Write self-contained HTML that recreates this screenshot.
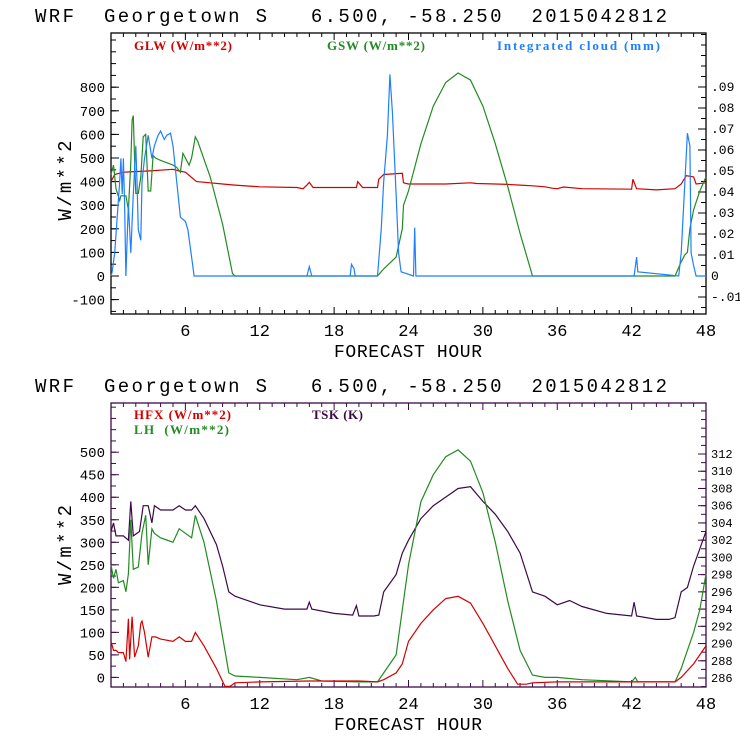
<!DOCTYPE html>
<html><head><meta charset="utf-8"><style>
html,body{margin:0;padding:0;background:#fff;width:740px;height:740px;overflow:hidden}
svg{display:block}
.mono{font-family:"Liberation Mono",monospace;white-space:pre}
.serif{font-family:"Liberation Serif",serif;font-weight:bold;white-space:pre}
</style></head><body>
<svg id="c" width="740" height="740" xmlns="http://www.w3.org/2000/svg"></svg>
<script>
// ---- data (top panel) ----
const glwHours=[0,0.3,1,3,5,5.5,6,6.9,8,9,10,12,15,15.5,15.8,16,16.3,16.6,19.8,19.9,20.3,21.5,21.6,22,23.5,23.6,24,27,29,29.5,31,32,33,34,35,35.6,36,36.5,38,42,42.1,42.4,44,45.5,46,46.4,47,47.2,48];
const glwVals=[400,430,440,445,452,445,440,400,395,390,385,378,375,370,385,397,375,375,375,400,375,375,410,430,435,395,390,390,395,392,390,388,385,382,378,372,370,377,370,368,410,370,365,370,390,425,420,390,395];
const gswHours=[0,0.2,0.4,0.7,0.8,1.2,1.4,1.6,1.7,1.8,1.9,2,2.2,2.4,2.6,2.8,3,3.2,3.4,3.6,4,4.5,5,5.3,5.6,5.8,6,6.3,6.5,6.8,7,8,9,9.8,10,21.5,22,23,23.5,23.6,24,24.5,25,26,27,28,29,30,31,32,33,34,45.5,46,46.3,46.5,46.7,47,47.5,48];
const gswVals=[430,470,370,320,340,340,280,480,660,680,490,350,350,420,590,600,360,360,510,500,490,480,470,460,440,520,500,470,500,590,570,420,220,10,0,0,30,80,200,300,360,460,560,720,820,860,830,720,560,380,180,0,0,60,90,100,200,280,360,420];
const cldHours=[0,0.1,0.3,0.5,0.7,0.8,0.9,1,1.1,1.2,1.3,1.4,1.6,1.8,2,2.1,2.2,2.4,2.5,2.7,3,3.3,3.5,3.8,4,4.3,4.5,4.8,5,5.3,5.6,6,6.2,6.5,6.7,15.8,16,16.2,19.3,19.4,19.6,19.7,21.5,21.8,22,22.3,22.5,22.7,23,23.2,23.4,24.4,24.5,24.6,42.2,42.4,42.5,45.8,46,46.3,46.5,46.7,46.8,47,47.2,48];
const cldVals=[0,0.002,0.011,0.028,0.045,0.056,0.039,0.056,0.034,0,0.017,0.034,0.011,0.039,0.062,0.045,0.022,0.017,0.045,0.056,0.067,0.056,0.062,0.067,0.069,0.065,0.067,0.068,0.062,0.045,0.028,0.026,0.022,0.009,0,0,0.0045,0,0,0.0055,0.0035,0,0,0.022,0.045,0.067,0.096,0.078,0.039,0.011,0.002,0,0.023,0,0,0.009,0.002,0,0.011,0.045,0.068,0.062,0.011,0.005,0,0];
// ---- data (bottom panel) ----
const tskHours=[0,0.2,0.4,1,1.4,1.6,1.8,2.3,2.6,3,3.3,3.5,4,5,5.5,6,6.5,6.8,7.5,8.5,9,9.5,10,12,14,15.8,16,16.2,18,19.5,19.8,20,21.2,21.6,22,23,23.5,24,25,26,27,28,29,30,31,32,33,34,35,36,37,38,40,42,42.2,42.4,44,45,45.5,46,46.5,47,47.5,48];
const tskVals=[303,304,302.5,302.5,302,306.5,302.5,303,306,306,304,306,305.5,305.5,306,305.5,305.5,306,304.5,301.5,299,296,295.5,294.5,294,294,294.8,294,293.5,293.3,294.4,293.2,293.2,293.3,296,298,300.5,302,304.5,306,307,308,308.2,306.5,305,303,300.5,296,295.5,294.5,295,294.3,293.5,293.2,294.8,293.2,292.8,292.8,293,296,296.5,299,301,303];
const lhHours=[0,0.2,0.4,0.6,1,1.2,1.4,1.6,1.8,2.2,2.5,2.8,3,3.3,3.5,4,4.5,5,5.5,6,6.5,6.8,7.5,8.5,9.5,10,12,15,16,17,20,21.5,22,23,23.5,24,25,26,27,28,29,30,31,32,33,34,35,36,38,42,42.3,42.5,45.5,46,47,47.5,48];
const lhVals=[250,220,240,210,215,190,230,350,240,245,320,360,250,330,320,310,305,300,330,320,310,360,300,170,10,3,0,-5,0,-8,-10,-10,10,50,150,250,390,450,490,505,480,410,300,170,60,5,0,0,-5,-10,0,-10,-10,20,100,150,230];
const hfxHours=[0,0.2,0.4,0.6,1,1.2,1.4,1.5,1.7,1.9,2.2,2.4,2.5,2.7,3,3.3,3.6,4,5,5.5,6,6.5,6.8,7.5,8.5,9.2,9.6,10,12,16,20,21.5,22,23,23.5,24,25,26,27,28,29,30,31,32,32.8,33.5,34,36,42,45.5,46,47,48];
const hfxVals=[80,60,60,55,55,35,130,40,135,45,70,120,125,100,45,90,90,85,80,90,80,80,100,70,20,-20,-20,-12,-10,-8,-8,-10,-5,10,30,80,120,150,175,180,165,120,70,20,-15,-15,-12,-10,-10,-10,0,30,70];
const xTicks=[6,12,18,24,30,36,42,48];
const topLeftTicks=[-100,0,100,200,300,400,500,600,700,800];
const topRightTicks=[-0.01,0,0.01,0.02,0.03,0.04,0.05,0.06,0.07,0.08,0.09];
const botLeftTicks=[0,50,100,150,200,250,300,350,400,450,500];
const botRightTicks=[286,288,290,292,294,296,298,300,302,304,306,308,310,312];

const NS="http://www.w3.org/2000/svg";
const svg=document.getElementById('c');
function mk(tag,attrs,parent){const e=document.createElementNS(NS,tag);for(const k in attrs)e.setAttribute(k,attrs[k]);(parent||svg).appendChild(e);return e;}
const X0=111,X1=706;
const xs=h=>X0+(X1-X0)*h/48;

function panel(p){
  const g=mk('g',{});
  
  
  const t=mk('text',{x:35,y:p.titleY,'font-size':19,class:'mono',fill:'#000',textLength:632,lengthAdjust:'spacing'},g);
  t.textContent='WRF  Georgetown S   6.500, -58.250  2015042812';
  
  
  const fr=mk('rect',{x:X0,y:p.top,width:X1-X0,height:p.bot-p.top,fill:'none',stroke:p.frame,'stroke-width':1.3},g);
  
  
  for(let h=1;h<48;h++){
    const len=h%6==0?7:4;
    mk('line',{x1:xs(h),x2:xs(h),y1:p.bot,y2:p.bot-len,stroke:p.frame},g);
    mk('line',{x1:xs(h),x2:xs(h),y1:p.top,y2:p.top+len,stroke:p.frame},g);
  }
  xTicks.forEach(h=>{
    const tl=mk('text',{x:xs(h),y:p.bot+22,'font-size':17,class:'mono','text-anchor':'middle'},g);
    tl.textContent=h;
    
    
  });
  const xt=mk('text',{x:334,y:p.bot+43,'font-size':18,class:'mono',textLength:148,lengthAdjust:'spacing'},g);
  xt.textContent='FORECAST HOUR';
  
  
  const cy=(p.top+p.bot)/2+p.ytDy;
  const yt=mk('text',{x:-p.ytLen/2,y:0,'font-size':19,class:'mono',textLength:p.ytLen,lengthAdjust:'spacing',transform:`translate(${p.ytX},${cy}) rotate(-90)`},g);
  yt.textContent='W/m**2';
  
  
  for(let v=p.lmin;v<=p.lmax;v+=p.lstep){
    const y=p.ly(v);if(y<p.top||y>p.bot)continue;
    mk('line',{x1:X0,x2:X0+5,y1:y,y2:y,stroke:p.frame},g);
  }
  p.lTicks.forEach(v=>{
    const y=p.ly(v);
    mk('line',{x1:X0,x2:X0+8,y1:y,y2:y,stroke:p.frame},g);
    const l=mk('text',{x:X0-6,y:y+5,'font-size':14,class:'mono','text-anchor':'end'},g);
    l.textContent=v;
    
    
  });
  for(let i=0;;i++){
    const v=p.rmin+i*p.rstep; if(v>p.rmax+1e-9)break;
    const y=p.ry(v);if(y<p.top||y>p.bot)continue;
    mk('line',{x1:X1,x2:X1-5,y1:y,y2:y,stroke:p.frame},g);
  }
  p.rTicks.forEach(v=>{
    const y=p.ry(v);if(y<p.top||y>p.bot)return;
    mk('line',{x1:X1,x2:X1-8,y1:y,y2:y,stroke:p.frame},g);
    const l=mk('text',{x:X1+5,y:y+4,'font-size':p.rfs,class:'mono','text-anchor':'start'},g);
    l.textContent=p.rfmt(v);
    
    
  });
  p.series.forEach(s=>{
    const pts=s.h.map((h,i)=>xs(h).toFixed(1)+','+Math.max(p.top,Math.min(p.bot,s.y(s.v[i]))).toFixed(1)).join(' ');
    const pl=mk('polyline',{points:pts,fill:'none',stroke:s.c,'stroke-width':1.2},g);
    
    
  });
  p.legend.forEach(L=>{
    const l=mk('text',{x:L.x,y:L.y,'font-size':13,class:'serif',fill:L.c,textLength:L.w,lengthAdjust:'spacing'},g);
    l.textContent=L.t;
    
    
  });
}
const tly=v=>276-v*0.236, try_=v=>276-v*2100;
panel({name:'radiation-panel',titleY:22,top:33,bot:314,frame:'#000',ytX:71,ytDy:7,ytLen:80,
  ly:tly,ry:try_,lmin:-150,lmax:1050,lstep:50,lTicks:topLeftTicks,
  rmin:-0.015,rmax:0.115,rstep:0.005,rTicks:topRightTicks,rfs:13,
  rfmt:v=>Math.abs(v)<1e-9?'0':(v<0?'-':'')+'.'+String(Math.round(Math.abs(v)*100)).padStart(2,'0'),
  series:[{name:'glw-line',h:glwHours,v:glwVals,c:'#d40000',y:tly},
          {name:'gsw-line',h:gswHours,v:gswVals,c:'#228b22',y:tly},
          {name:'cloud-line',h:cldHours,v:cldVals,c:'#1e7fff',y:try_}],
  legend:[{x:134,y:50,t:'GLW (W/m**2)',c:'#d40000',w:98},{x:327,y:50,t:'GSW (W/m**2)',c:'#228b22',w:98},{x:497,y:50,t:'Integrated cloud (mm)',c:'#1e7fff',w:163}]});
const bly=v=>677.4-v*0.4504, bry=v=>678-(v-286)*8.615;
panel({name:'flux-panel',titleY:392,top:403,bot:687,frame:'#3c0a46',ytX:71,ytDy:0,ytLen:80,
  ly:bly,ry:bry,lmin:-25,lmax:625,lstep:25,lTicks:botLeftTicks,
  rmin:285,rmax:319,rstep:1,rTicks:botRightTicks,rfs:12,rfmt:v=>String(v),
  series:[{name:'tsk-line',h:tskHours,v:tskVals,c:'#3c0a46',y:bry},
          {name:'lh-line',h:lhHours,v:lhVals,c:'#228b22',y:bly},
          {name:'hfx-line',h:hfxHours,v:hfxVals,c:'#d40000',y:bly}],
  legend:[{x:134,y:419,t:'HFX (W/m**2)',c:'#d40000',w:97},{x:134,y:434,t:'LH  (W/m**2)',c:'#228b22',w:95},{x:312,y:419,t:'TSK (K)',c:'#3c0a46',w:51}]});
</script>
</body></html>
